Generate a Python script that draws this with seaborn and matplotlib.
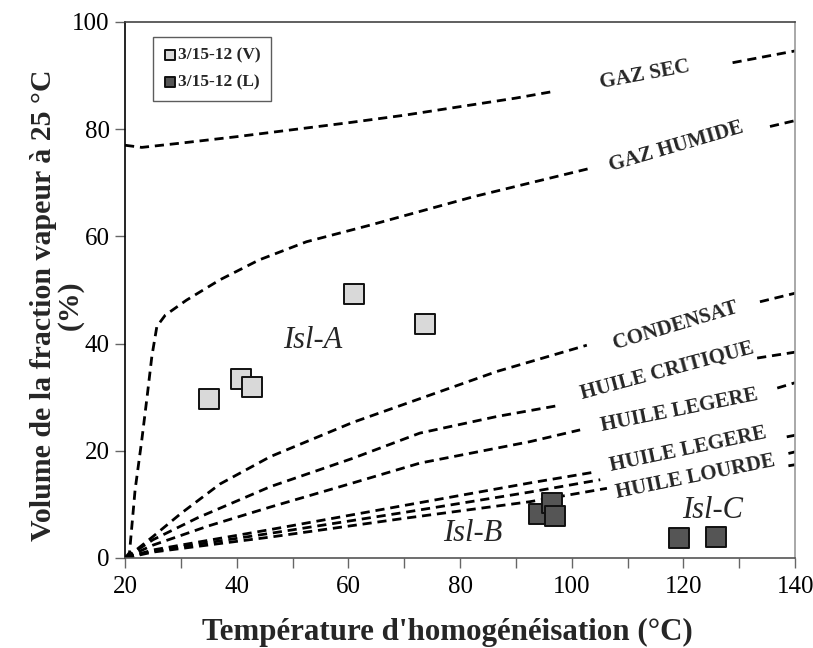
import matplotlib
matplotlib.use("Agg")
import matplotlib.pyplot as plt
from matplotlib.ticker import MultipleLocator
import seaborn as sns
import pandas as pd

# Fluid inclusions: homogenisation temperature vs vapour volume fraction
vap_temp = [35.0, 40.7, 42.7, 61.0, 73.7]
vap_frac = [29.7, 33.3, 31.9, 49.2, 43.6]
liq_temp = [94.2, 96.4, 97.0, 119.2, 125.9]
liq_frac = [8.2, 10.3, 7.8, 3.7, 4.0]

# Reference iso-curves of the fluid types (each broken where its label sits)
gaz_sec_x = [[20, 23, 30, 40, 50, 60, 70, 80, 90, 96.5], [128.8, 140]]
gaz_sec_y = [[77, 76.6, 77.4, 78.6, 79.9, 81.2, 82.6, 84.2, 85.8, 87.0], [92.4, 94.6]]

gaz_hum_x = [[20, 20.8, 21.8, 23, 24, 24.8, 25.7, 27.2, 31, 37, 44, 52.5, 63.9, 82.4, 103.3], [135.5, 140]]
gaz_hum_y = [[0, 1, 12.7, 22, 30.5, 37.6, 43.2, 45.3, 48.1, 51.9, 55.6, 59.0, 62.1, 67.4, 72.7], [80.5, 81.6]]

condensat_x = [[20, 22, 25, 30, 37, 46, 60.8, 72.2, 86.6, 102.7], [133.7, 140]]
condensat_y = [[0, 1.5, 4, 8.3, 13.8, 18.9, 25.3, 29.5, 34.8, 39.7], [47.8, 49.4]]

critique_x = [[20, 25, 33, 46, 60.8, 72.8, 86.6, 97.9], [133.2, 140]]
critique_y = [[0, 3.4, 7.5, 13.3, 18.6, 23.3, 26.4, 28.5], [37.3, 38.4]]

legere1_x = [[20, 25, 35, 46, 60.8, 72.8, 92.5, 101.5], [136.8, 140]]
legere1_y = [[0, 2.4, 6.0, 9.5, 14.0, 17.7, 21.7, 23.9], [31.7, 32.7]]

legere2_x = [[20, 25, 46, 70, 92.5, 104.5], [138.5, 140]]
legere2_y = [[0, 1.5, 5.3, 9.8, 14.0, 16.1], [22.6, 22.9]]

moyenne_x = [[20, 25, 46, 70, 92.5, 105.1], [138.8, 140]]
moyenne_y = [[0, 1.3, 4.6, 8.5, 12.3, 14.6], [19.5, 19.8]]

lourde_x = [[20, 25, 46, 70, 92.5, 106.3], [138.8, 140]]
lourde_y = [[0, 1.1, 3.9, 7.4, 10.5, 13.0], [17.2, 17.4]]

curve_labels = ["GAZ SEC", "GAZ HUMIDE", "CONDENSAT", "HUILE CRITIQUE",
                "HUILE LEGERE", "HUILE LEGERE", "HUILE LOURDE"]
label_x = [113.1, 118.8, 118.6, 117.0, 119.2, 120.9, 122.1]
label_y = [90.1, 76.7, 43.3, 34.8, 27.6, 20.3, 15.2]
label_rot = [10.5, 16.3, 16.6, 15.0, 11.3, 12.0, 11.5]

group_labels = ["Isl-A", "Isl-B", "Isl-C"]
group_x = [53.7, 82.2, 125.2]
group_y = [40.6, 4.6, 8.9]

sns.set_style("ticks")
plt.rcParams["font.family"] = ["Liberation Serif", "DejaVu Serif"]

fig = plt.figure(figsize=(8.13, 6.48), dpi=100)
ax = fig.add_axes([0.1538, 0.1389, 0.8242, 0.8272])

dash = (0, (3.3, 2.1))
curves = [(gaz_sec_x, gaz_sec_y), (gaz_hum_x, gaz_hum_y), (condensat_x, condensat_y),
          (critique_x, critique_y), (legere1_x, legere1_y), (legere2_x, legere2_y),
          (moyenne_x, moyenne_y), (lourde_x, lourde_y)]
for xs_list, ys_list in curves:
    for xs, ys in zip(xs_list, ys_list):
        sns.lineplot(x=xs, y=ys, ax=ax, color="black", lw=2.0, linestyle=dash,
                     estimator=None, sort=False)

vap = pd.DataFrame({"T": vap_temp, "F": vap_frac})
liq = pd.DataFrame({"T": liq_temp, "F": liq_frac})
sns.scatterplot(data=vap, x="T", y="F", ax=ax, marker="s", s=190, color="#d9d9d9",
                edgecolor="#111111", linewidth=1.4, label="3/15-12 (V)", zorder=5)
sns.scatterplot(data=liq, x="T", y="F", ax=ax, marker="s", s=190, color="#555555",
                edgecolor="#111111", linewidth=1.4, label="3/15-12 (L)", zorder=5)

for txt, x, y, r in zip(curve_labels, label_x, label_y, label_rot):
    ax.text(x, y, txt, rotation=r, ha="center", va="center", fontsize=15,
            fontweight="bold", rotation_mode="anchor")

for txt, x, y in zip(group_labels, group_x, group_y):
    ax.text(x, y, txt, ha="center", va="center", fontsize=22, fontstyle="italic")

ax.set_xlim(20, 140)
ax.set_ylim(0, 100)
ax.xaxis.set_major_locator(MultipleLocator(20))
ax.xaxis.set_minor_locator(MultipleLocator(10))
ax.yaxis.set_major_locator(MultipleLocator(20))
ax.tick_params(axis="both", which="both", direction="out", length=7, width=1,
               color="#666666", labelsize=18, labelcolor="black")
ax.tick_params(axis="x", pad=6)
ax.tick_params(axis="y", pad=4)

for side, col in [("left", "black"), ("bottom", "#555555"), ("top", "#444444"), ("right", "#999999")]:
    ax.spines[side].set_visible(True)
    ax.spines[side].set_color(col)
    ax.spines[side].set_linewidth(1.2)

ax.set_xlabel("Température d'homogénéisation (°C)", fontsize=22.3, fontweight="bold")
ax.xaxis.set_label_coords(0.4806, -0.1125)
ax.set_ylabel("Volume de la fraction vapeur à 25 °C\n(%)", fontsize=21.5, fontweight="bold",
              linespacing=1.0)
ax.yaxis.set_label_coords(-0.0612, 0.472)

leg = ax.legend(loc="upper left", bbox_to_anchor=(0.042, 0.972), borderaxespad=0,
                frameon=True, fancybox=False, markerscale=0.55, handlelength=0.7,
                handletextpad=0.15, labelspacing=0.6, borderpad=0.6,
                prop={"family": "Liberation Serif", "weight": "bold", "size": 12.5})
leg.get_frame().set_edgecolor("#333333")
leg.get_frame().set_linewidth(1.0)

fig.savefig("out.png", dpi=100)
